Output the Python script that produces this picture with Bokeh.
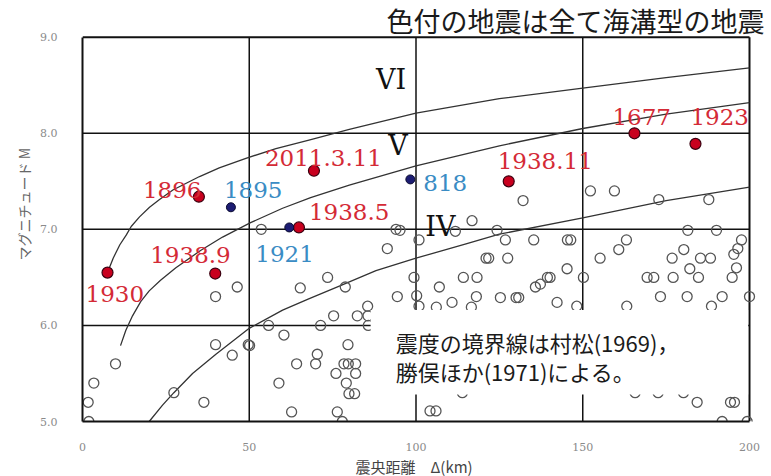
from bokeh.plotting import figure
from bokeh.models import FixedTicker, Label, BoxAnnotation, ColumnDataSource, NumeralTickFormatter, Title, Range1d
from bokeh.embed import file_html
from bokeh.resources import INLINE
from bokeh.core.properties import value

# ---------------- data ----------------
x_ticks = [0, 50, 100, 150, 200]
y_ticks = [5, 6, 7, 8, 9]
x_grid = [50, 100, 150]
y_grid = [6, 7, 8]

# intensity boundary curves
vi_x = [7.5, 9.2, 11.2, 13.1, 14.6, 17.1, 20.1, 23.1, 27.1, 31.1, 35.1, 41.0, 49.0, 58.0, 67.9, 80, 100, 125, 150, 175, 200]
vi_m = [6.55, 6.70, 6.84, 6.94, 7.03, 7.13, 7.23, 7.31, 7.41, 7.48, 7.55, 7.64, 7.74, 7.84, 7.93, 8.04, 8.21, 8.36, 8.47, 8.58, 8.68]
v_x = [11.4, 13.0, 15.0, 17.5, 20.0, 23.4, 28.0, 35.4, 42.0, 50.4, 60.0, 68.4, 80.0, 100.0, 125.0, 150.0, 175.0, 200.0]
v_m = [5.79, 5.95, 6.10, 6.25, 6.36, 6.47, 6.60, 6.78, 6.92, 7.07, 7.22, 7.33, 7.46, 7.66, 7.87, 8.05, 8.20, 8.32]
iv_x = [20.0, 24.0, 27.4, 33.0, 40.0, 50.0, 60.0, 68.0, 77.0, 88.0, 100.0, 115.0, 125.0, 150.0, 175.0, 200.0]
iv_m = [5.00, 5.17, 5.30, 5.50, 5.70, 5.97, 6.16, 6.28, 6.41, 6.57, 6.70, 6.85, 6.95, 7.12, 7.30, 7.44]
boundary_names = ["VI", "V", "IV"]

# other earthquakes (open circles)
circ_x = [1.9, 1.7, 3.4, 9.9, 27.4, 36.4, 39.9, 44.9, 49.7, 50.1, 39.9, 46.4,
          53.6, 55.8, 60.4, 58.9, 62.7, 64.2, 65.3, 69.9, 70.4, 71.4, 73.5, 75.3, 76.0, 76.4, 77.9, 78.8,
          78.4, 79.7, 81.9, 79.6, 81.9, 79.1, 79.9, 81.6, 82.4, 85.5, 85.7, 85.6, 91.4, 94.0, 95.2, 94.4,
          99.4, 100.2,
          100.9, 100.9, 106.1, 107.0, 110.8, 111.8, 114.2, 116.8, 116.6, 118.3, 118.1, 121.0, 121.8, 124.3,
          125.3, 126.8, 127.5, 130.0, 130.8, 132.1, 135.3, 135.8, 137.3, 139.4, 140.2, 142.3, 145.3, 145.4,
          146.4, 148.2, 150.2, 104.2, 106.0, 113.9,
          152.3, 159.5, 172.8, 187.8, 181.5, 190.1, 163.1, 160.8, 155.2, 197.6, 196.5, 195.3, 180.3, 176.8,
          185.3, 188.3, 182.1, 196.1, 169.3, 171.3, 177.1, 184.7, 194.8, 173.3, 181.3, 191.8, 200.0, 163.2,
          188.6, 184.3, 194.3, 195.5, 191.8, 199.3, 165.7, 172.6, 180.2]
circ_m = [5.0, 5.2, 5.4, 5.6, 5.3, 5.2, 5.8, 5.69, 5.80, 5.79, 6.3, 6.4,
          7.0, 6.0, 5.9, 5.4, 5.1, 5.6, 6.39, 5.6, 5.7, 6.0, 6.5, 6.1, 5.5, 5.1, 5.0, 6.4,
          5.6, 5.6, 5.6, 5.8, 5.5, 5.4, 5.29, 5.29, 6.1, 6.2, 6.0, 6.1, 6.8, 7.0, 6.99, 6.3,
          6.5, 6.31,
          6.89, 6.2, 6.19, 6.4, 6.24, 6.98, 6.5, 7.09, 6.19, 6.5, 6.3, 6.7, 6.7, 6.99,
          6.29, 6.89, 6.7, 6.29, 6.29, 7.3, 6.89, 6.4, 6.43, 6.5, 6.5, 6.24, 6.59, 6.89,
          6.89, 6.2, 6.5, 5.11, 5.11, 5.3,
          7.4, 7.4, 7.31, 7.31, 6.99, 6.99, 6.89, 6.79, 6.7, 6.89, 6.8, 6.74, 6.79, 6.7,
          6.7, 6.7, 6.59, 6.6, 6.5, 6.5, 6.5, 6.5, 6.5, 6.3, 6.3, 6.3, 6.3, 6.2,
          6.2, 5.2, 5.2, 5.2, 5.0, 5.0, 5.3, 5.3, 5.3]

# trench-type earthquakes
red_names = ["1930", "1896", "2011.3.11", "1938.5", "1938.9", "1938.11", "1677", "1923"]
red_x = [7.5, 34.9, 69.4, 64.9, 39.8, 127.8, 165.5, 183.8]
red_m = [6.55, 7.34, 7.61, 7.02, 6.54, 7.50, 8.00, 7.89]
blue_names = ["1895", "1921", "818"]
blue_x = [44.5, 62.0, 98.3]
blue_m = [7.23, 7.02, 7.52]

title_text = "色付の地震は全て海溝型の地震"
note_lines = ["震度の境界線は村松(1969)，", "勝俣ほか(1971)による。"]
x_title = "震央距離　Δ(km)"
y_title = "マグニチュード M"

# ---------------- layout ----------------
# pixel offsets (dx, dy; dy positive = down) of each year label from its point
label_offsets = {
    "1930": (-22, 21), "1896": (-56, -7), "2011.3.11": (-49, -13), "1938.5": (10, -15),
    "1938.9": (-65, -19), "1938.11": (-11, -20), "1677": (-22, -16), "1923": (-5, -27),
    "1895": (-7, -17), "1921": (-34, 27), "818": (13, 4),
}

# frame: plot area 0..200 km x 5..9 M, extended up/right so the title fits inside the canvas
PX_PER_KM = 667 / 200.0
PX_PER_M = 387 / 4.0
x_hi = 200 + 22 / PX_PER_KM
y_hi = 9 + 37 / PX_PER_M

p = figure(width=771, height=476, x_range=Range1d(0, x_hi), y_range=Range1d(5, y_hi),
           output_backend="svg", toolbar_location=None, title=None,
           min_border_left=82, min_border_right=0, min_border_top=0, min_border_bottom=52)
p.background_fill_color = "white"
p.border_fill_color = "white"
p.outline_line_color = None

p.xaxis.ticker = FixedTicker(ticks=x_ticks)
p.yaxis.ticker = FixedTicker(ticks=y_ticks)
p.yaxis.formatter = NumeralTickFormatter(format="0.0")
p.xaxis.bounds = (0, 200)
p.yaxis.bounds = (5, 9)
for ax in (p.xaxis, p.yaxis):
    ax.axis_line_color = "#111111"
    ax.axis_line_width = 2
    ax.major_tick_line_color = None
    ax.minor_tick_line_color = None
    ax.major_label_text_font = "DejaVu Serif"
    ax.major_label_text_font_size = "11px"
    ax.major_label_text_color = "#8a8a8a"
p.xaxis.major_label_standoff = 15
p.yaxis.major_label_standoff = 19
p.xgrid.visible = False
p.ygrid.visible = False

# grid lines and the top / right border of the plot box
p.segment(x0=x_grid, y0=[y_ticks[0]] * 3, x1=x_grid, y1=[y_ticks[-1]] * 3,
          line_color="#111111", line_width=1.5)
p.segment(x0=[x_ticks[0]] * 3, y0=y_grid, x1=[x_ticks[-1]] * 3, y1=y_grid,
          line_color="#111111", line_width=1.5)
p.segment(x0=[x_ticks[0], x_ticks[-1]], y0=[y_ticks[-1], y_ticks[0]],
          x1=[x_ticks[-1], x_ticks[-1]], y1=[y_ticks[-1], y_ticks[-1]],
          line_color="#111111", line_width=2)

# boundary curves
for cx, cm in ((vi_x, vi_m), (v_x, v_m), (iv_x, iv_m)):
    p.line(cx, cm, line_color="#333333", line_width=1.3)

# open circles
p.scatter(circ_x, circ_m, marker="circle", size=10, fill_alpha=0,
          line_color="#555555", line_width=1.3)

# coloured earthquakes
p.scatter(red_x, red_m, marker="circle", size=11, fill_color="#c8001e",
          line_color="#3a0010", line_width=1.2)
p.scatter(blue_x, blue_m, marker="circle", size=9, fill_color="#1c1c72",
          line_color="#0a0a30", line_width=1.0)

def label_source(names, xs, ms):
    return ColumnDataSource(dict(
        x=xs, y=ms, text=names,
        dx=[label_offsets[n][0] for n in names],
        dy=[label_offsets[n][1] for n in names]))

p.text(x="x", y="y", text="text", x_offset="dx", y_offset="dy",
       source=label_source(red_names, red_x, red_m),
       text_font=value("DejaVu Serif"), text_font_size="23px",
       text_color="#d42a36", text_align="left", text_baseline="middle")
p.text(x="x", y="y", text="text", x_offset="dx", y_offset="dy",
       source=label_source(blue_names, blue_x, blue_m),
       text_font=value("DejaVu Serif"), text_font_size="23px",
       text_color="#3a8cc4", text_align="left", text_baseline="middle")

# roman numerals of the intensity boundaries
for name, (lx, ly) in zip(boundary_names, [(88.0, 8.556), (91.7, 7.873), (102.8, 7.03)]):
    p.add_layout(Label(x=lx, y=ly, text=name, text_font="DejaVu Serif",
                       text_font_size="27px", text_color="#111111",
                       text_align="left", text_baseline="middle"))

# white note box
p.add_layout(BoxAnnotation(left=86.4, right=199.6, bottom=5.28, top=6.16,
                           fill_color="white", fill_alpha=1.0, line_color=None, line_alpha=0))
for line, ly in zip(note_lines, [5.827, 5.527]):
    p.add_layout(Label(x=93.9, y=ly, text=line, text_font="Noto Sans CJK JP",
                       text_font_size="22px", text_color="#1a1a1a",
                       text_align="left", text_baseline="middle"))

# main title (inside the extended area above the box)
p.add_layout(Label(x=204.5, y=9.171, text=title_text, text_font="Noto Sans CJK JP",
                   text_font_size="27px", text_color="#1a1a1a",
                   text_align="right", text_baseline="middle"))

# axis titles
p.add_layout(Title(text=x_title, align="left", offset=273, standoff=0,
                   text_font="Noto Sans CJK JP", text_font_size="15px",
                   text_font_style="normal", text_color="#444444"), "below")
p.add_layout(Title(text=y_title, align="left", offset=161, standoff=8,
                   text_font="Noto Sans CJK JP", text_font_size="14px",
                   text_font_style="normal", text_color="#666666"), "left")

open("out.html", "w").write(file_html(p, INLINE))
